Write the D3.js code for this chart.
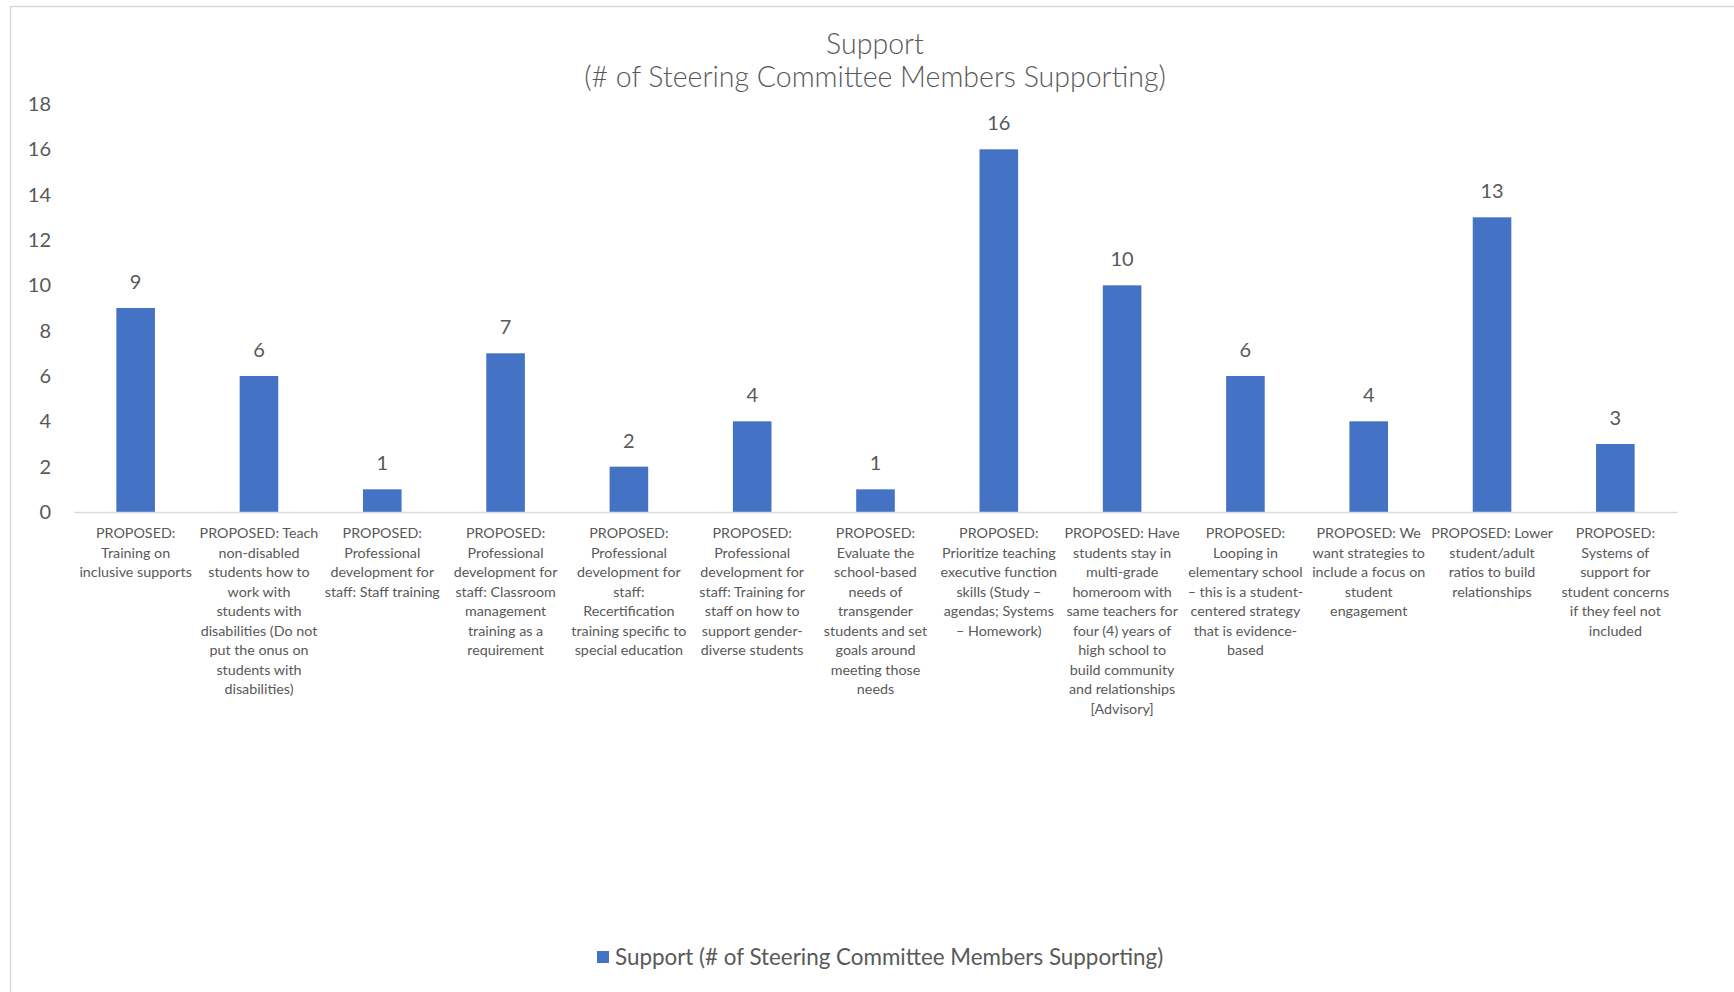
<!DOCTYPE html>
<html>
<head>
<meta charset="utf-8">
<script src="https://cdn.jsdelivr.net/npm/d3@7"></script>
<style>
  html, body { margin: 0; padding: 0; background: #ffffff; }
  svg { display: block; }
  text { font-family: Lato, "Open Sans", sans-serif; fill: #595959; }
</style>
</head>
<body>
<svg id="chart" width="1734" height="992"></svg>
<script>
// Support counts per proposal
const categories = [
  ["PROPOSED:", "Training on", "inclusive supports"],
  ["PROPOSED: Teach", "non-disabled", "students how to", "work with", "students with", "disabilities (Do not", "put the onus on", "students with", "disabilities)"],
  ["PROPOSED:", "Professional", "development for", "staff: Staff training"],
  ["PROPOSED:", "Professional", "development for", "staff: Classroom", "management", "training as a", "requirement"],
  ["PROPOSED:", "Professional", "development for", "staff:", "Recertification", "training specific to", "special education"],
  ["PROPOSED:", "Professional", "development for", "staff: Training for", "staff on how to", "support gender-", "diverse students"],
  ["PROPOSED:", "Evaluate the", "school-based", "needs of", "transgender", "students and set", "goals around", "meeting those", "needs"],
  ["PROPOSED:", "Prioritize teaching", "executive function", "skills (Study \u2013", "agendas; Systems", "\u2013 Homework)"],
  ["PROPOSED: Have", "students stay in", "multi-grade", "homeroom with", "same teachers for", "four (4) years of", "high school to", "build community", "and relationships", "[Advisory]"],
  ["PROPOSED:", "Looping in", "elementary school", "\u2013 this is a student-", "centered strategy", "that is evidence-", "based"],
  ["PROPOSED: We", "want strategies to", "include a focus on", "student", "engagement"],
  ["PROPOSED: Lower", "student/adult", "ratios to build", "relationships"],
  ["PROPOSED:", "Systems of", "support for", "student concerns", "if they feel not", "included"]
];
const supportValues = [9, 6, 1, 7, 2, 4, 1, 16, 10, 6, 4, 13, 3];
const yTicks = [0, 2, 4, 6, 8, 10, 12, 14, 16, 18];
const titleLines = ["Support", "(# of Steering Committee Members Supporting)"];
const seriesName = "Support (# of Steering Committee Members Supporting)";

const W = 1734, H = 992;
const margin = { left: 74, right: 57, top: 104, bottom: 480 };
const barColor = "#4472C4";

const svg = d3.select("#chart");

// chart area frame
svg.append("rect")
  .attr("x", 10.5).attr("y", 6.5)
  .attr("width", W + 10).attr("height", H + 10)
  .attr("fill", "#ffffff").attr("stroke", "#D9D9D9").attr("stroke-width", 1.5);

const idx = d3.range(categories.length);
const x = d3.scaleBand()
  .domain(idx)
  .range([margin.left, W - margin.right])
  .paddingInner(0.687).paddingOuter(0.3435);

const y = d3.scaleLinear()
  .domain([0, 18])
  .range([512, 104]);

// title
svg.append("g").selectAll("text")
  .data(titleLines).join("text")
  .attr("x", 875)
  .attr("y", (d, i) => 54 + i * 33)
  .attr("text-anchor", "middle")
  .style("font-size", "28.5px")
  .style("font-weight", 300)
  .text(d => d);

// y axis labels (no line, no ticks)
const yAxis = d3.axisLeft(y).tickValues(yTicks).tickSize(0).tickPadding(0);
const gy = svg.append("g").attr("transform", "translate(51,0)").call(yAxis);
gy.select(".domain").remove();
gy.selectAll("text")
  .style("font-family", "Lato, 'Open Sans', sans-serif")
  .style("font-size", "20px")
  .attr("fill", "#595959");

// bars
svg.append("g").selectAll("rect")
  .data(supportValues).join("rect")
  .attr("x", (d, i) => x(i))
  .attr("y", d => y(d))
  .attr("width", x.bandwidth())
  .attr("height", d => y(0) - y(d))
  .attr("fill", barColor);

// value labels
svg.append("g").selectAll("text")
  .data(supportValues).join("text")
  .attr("x", (d, i) => x(i) + x.bandwidth() / 2)
  .attr("y", d => y(d) - 19)
  .attr("text-anchor", "middle")
  .style("font-size", "20px")
  .attr("fill", "#404040")
  .text(d => d);

// category axis line
const xAxis = d3.axisBottom(x).tickSize(0).tickFormat("");
const gx = svg.append("g").attr("transform", `translate(0,${y(0)})`).call(xAxis);
gx.select(".domain").attr("stroke", "#D9D9D9").attr("stroke-width", 1.5);

// wrapped category labels
const labels = svg.append("g").selectAll("text")
  .data(categories).join("text")
  .attr("text-anchor", "middle")
  .style("font-size", "14.3px");
labels.each(function (lines, i) {
  const cx = x(i) + x.bandwidth() / 2;
  d3.select(this).selectAll("tspan")
    .data(lines).join("tspan")
    .attr("x", cx)
    .attr("y", (d, j) => 538 + j * 19.5)
    .text(d => d);
});

// legend
const legend = svg.append("g").attr("transform", "translate(597,951)");
legend.append("rect").attr("width", 12).attr("height", 12).attr("fill", barColor);
legend.append("text")
  .attr("x", 18).attr("y", 13.5)
  .style("font-size", "22.4px")
  .text(seriesName);
</script>
</body>
</html>
